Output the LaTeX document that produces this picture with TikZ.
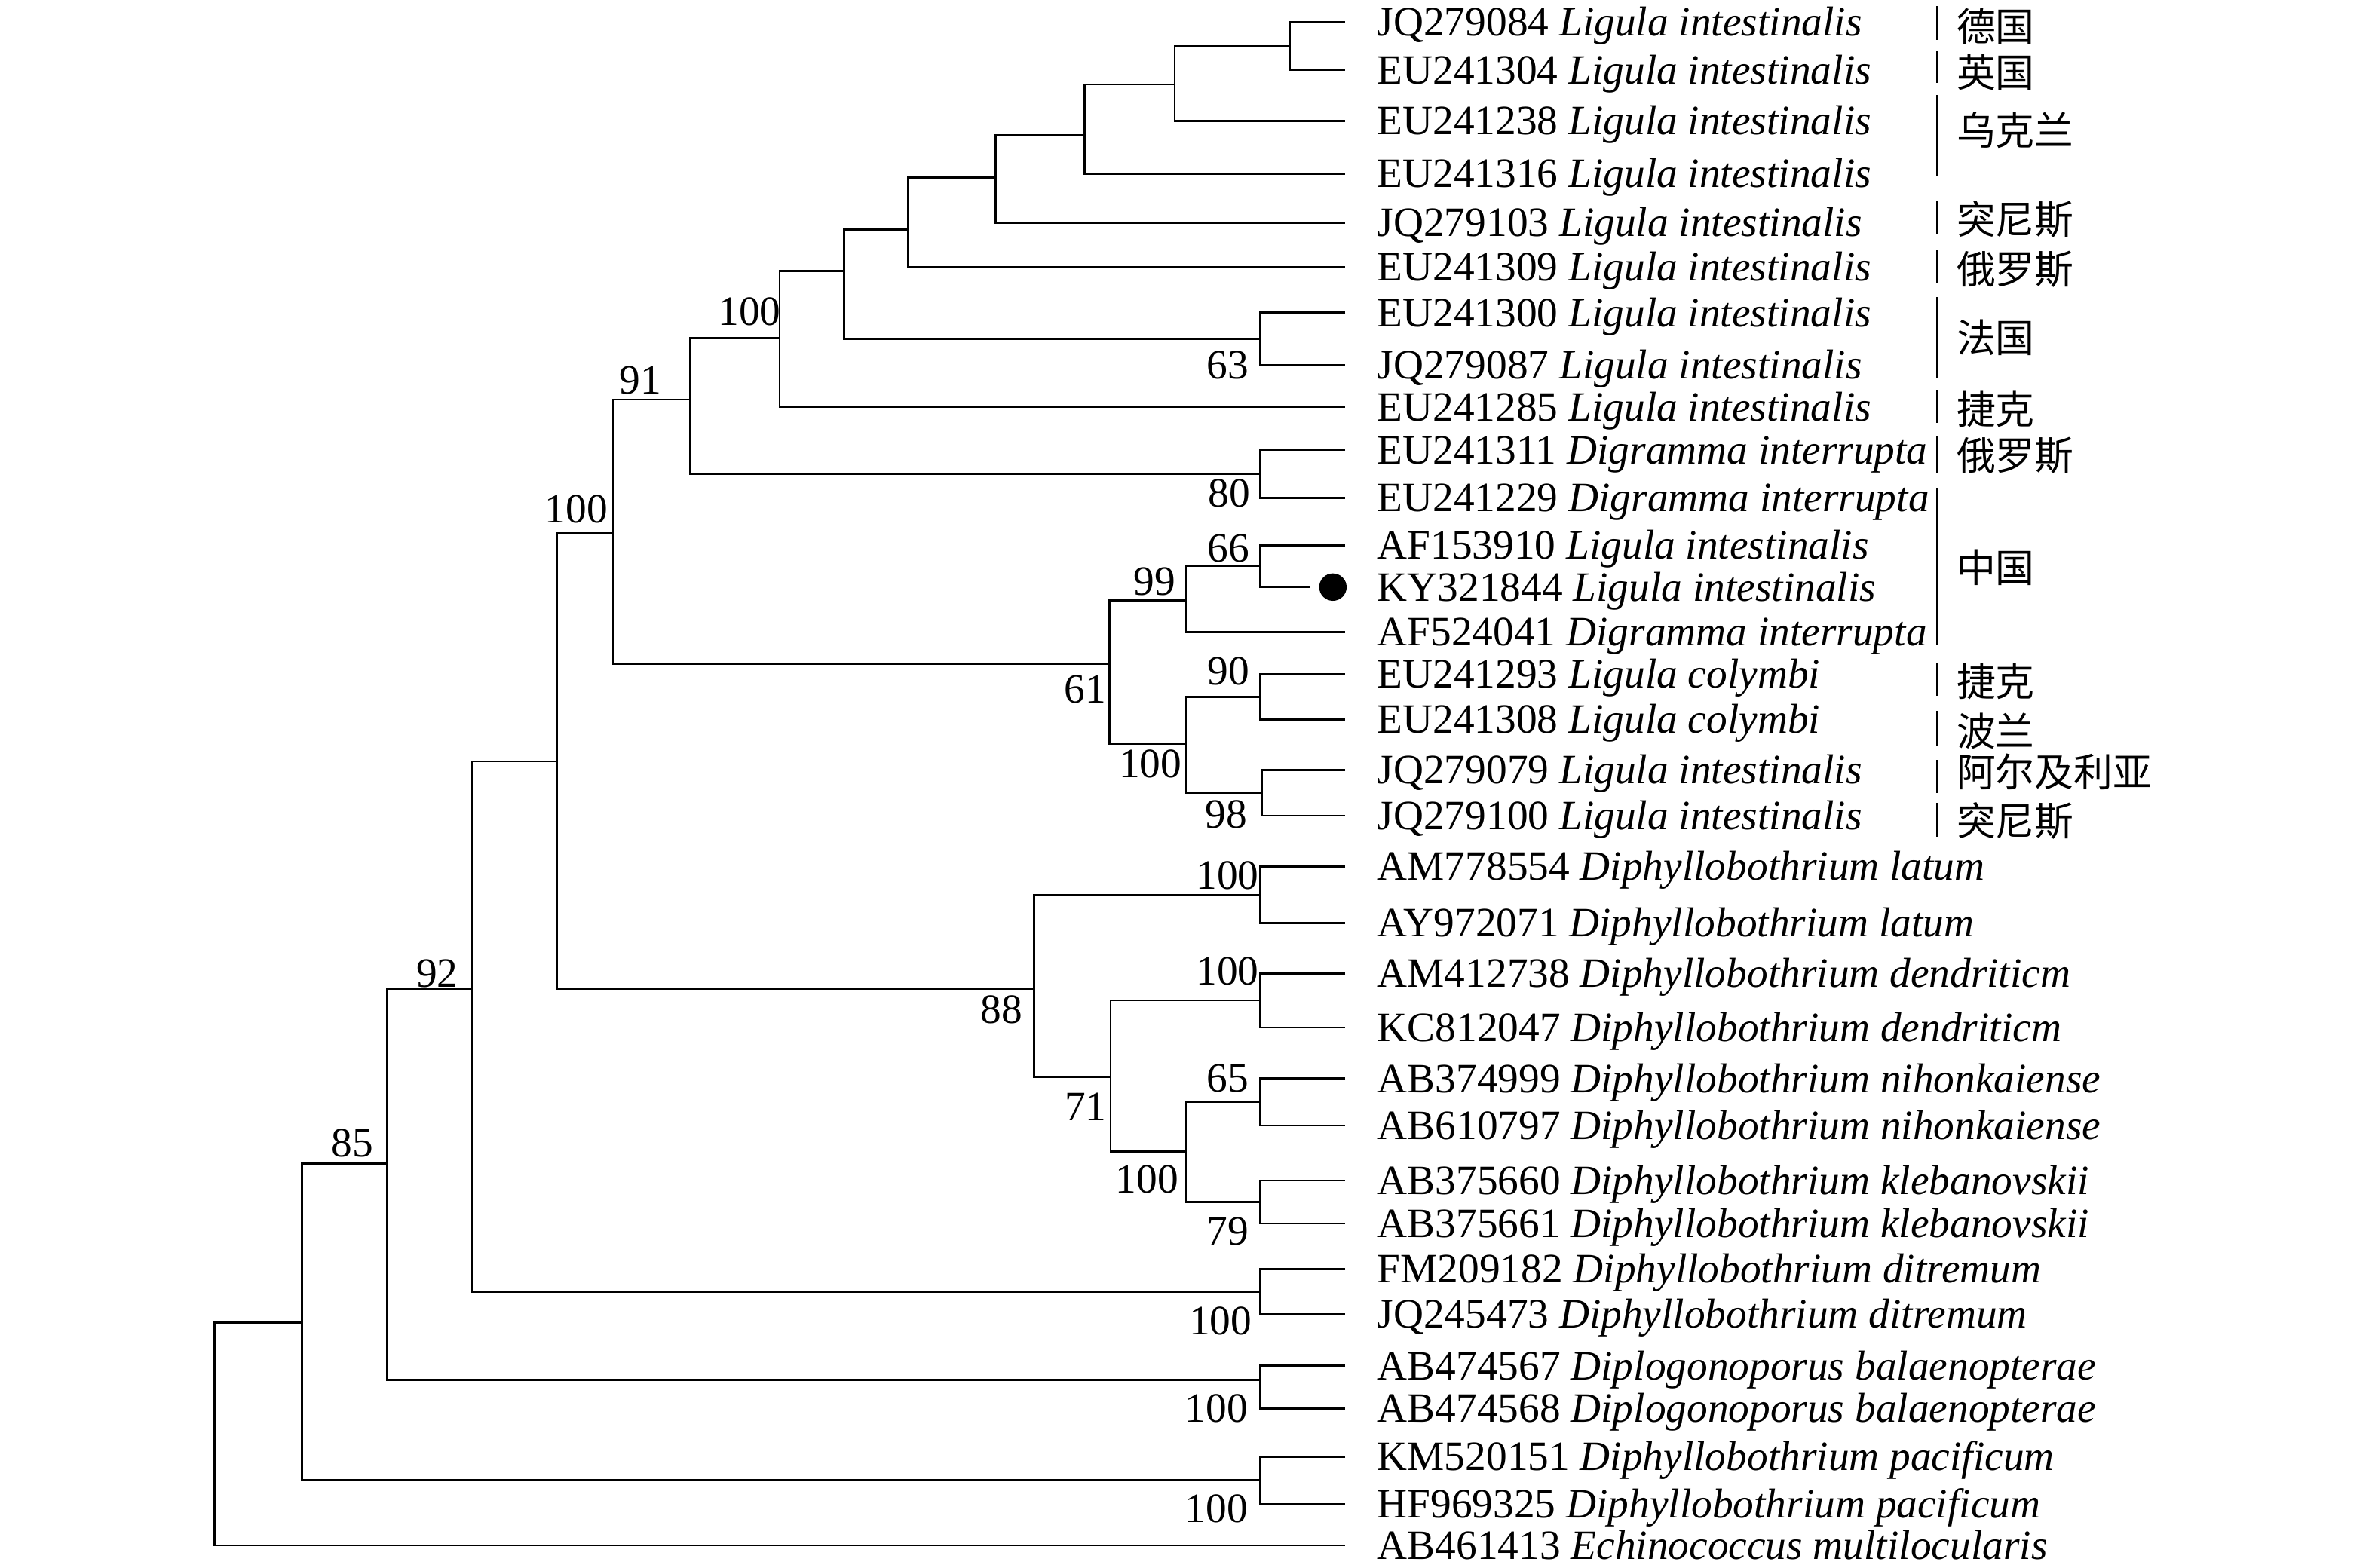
\documentclass[tikz,border=0pt]{standalone}
\usepackage{fontspec}
\setmainfont{Liberation Serif}
\newfontfamily\cjk{Noto Sans CJK SC}
\tikzset{
  branch/.style={line width=0.37pt},
  bar/.style={line width=0.45pt},
  leaf/.style={anchor=west, inner xsep=2.05mm, inner ysep=0pt, text height=1.82mm, text depth=0pt, font=\fontsize{7.8pt}{9pt}\selectfont},
  bs/.style={inner sep=0pt, font=\fontsize{7.8pt}{9pt}\selectfont},
  country/.style={anchor=west, inner sep=0pt, font=\cjk\fontsize{7.3pt}{9pt}\selectfont},
  kydot/.style={circle, fill, inner sep=0pt, minimum size=1.8mm},
}
\begin{document}
\begin{tikzpicture}[x=0.1mm, y=-0.1mm]
          \useasboundingbox (0,0) rectangle (1560,1029.6);
          % leaves
          \node[leaf] (t1) at (883.5,14.5) {JQ279084 \textit{Ligula intestinalis}};
          \node[leaf] (t2) at (883.5,46) {EU241304 \textit{Ligula intestinalis}};
          \node[leaf] (t3) at (883.5,79.5) {EU241238 \textit{Ligula intestinalis}};
          \node[leaf] (t4) at (883.5,114) {EU241316 \textit{Ligula intestinalis}};
          \node[leaf] (t5) at (883.5,146.3) {JQ279103 \textit{Ligula intestinalis}};
          \node[leaf] (t6) at (883.5,175.5) {EU241309 \textit{Ligula intestinalis}};
          \node[leaf] (t7) at (883.5,205.4) {EU241300 \textit{Ligula intestinalis}};
          \node[leaf] (t8) at (883.5,239.8) {JQ279087 \textit{Ligula intestinalis}};
          \node[leaf] (t9) at (883.5,267.3) {EU241285 \textit{Ligula intestinalis}};
          \node[leaf] (t10) at (883.5,295.6) {EU241311 \textit{Digramma interrupta}};
          \node[leaf] (t11) at (883.5,327) {EU241229 \textit{Digramma interrupta}};
          \node[leaf] (t12) at (883.5,358.3) {AF153910 \textit{Ligula intestinalis}};
          \node[leaf] (t13) at (883.5,385.7) {KY321844 \textit{Ligula intestinalis}};
          \node[leaf] (t14) at (883.5,415.2) {AF524041 \textit{Digramma interrupta}};
          \node[leaf] (t15) at (883.5,443) {EU241293 \textit{Ligula colymbi}};
          \node[leaf] (t16) at (883.5,472.6) {EU241308 \textit{Ligula colymbi}};
          \node[leaf] (t17) at (883.5,505.9) {JQ279079 \textit{Ligula intestinalis}};
          \node[leaf] (t18) at (883.5,535.9) {JQ279100 \textit{Ligula intestinalis}};
          \node[leaf] (t19) at (883.5,569.2) {AM778554 \textit{Diphyllobothrium latum}};
          \node[leaf] (t20) at (883.5,606.4) {AY972071 \textit{Diphyllobothrium latum}};
          \node[leaf] (t21) at (883.5,639.5) {AM412738 \textit{Diphyllobothrium dendriticm}};
          \node[leaf] (t22) at (883.5,675) {KC812047 \textit{Diphyllobothrium dendriticm}};
          \node[leaf] (t23) at (883.5,708.5) {AB374999 \textit{Diphyllobothrium nihonkaiense}};
          \node[leaf] (t24) at (883.5,739.3) {AB610797 \textit{Diphyllobothrium nihonkaiense}};
          \node[leaf] (t25) at (883.5,775.6) {AB375660 \textit{Diphyllobothrium klebanovskii}};
          \node[leaf] (t26) at (883.5,803.8) {AB375661 \textit{Diphyllobothrium klebanovskii}};
          \node[leaf] (t27) at (883.5,833.7) {FM209182 \textit{Diphyllobothrium ditremum}};
          \node[leaf] (t28) at (883.5,863.3) {JQ245473 \textit{Diphyllobothrium ditremum}};
          \node[leaf] (t29) at (883.5,897.2) {AB474567 \textit{Diplogonoporus balaenopterae}};
          \node[leaf] (t30) at (883.5,925.3) {AB474568 \textit{Diplogonoporus balaenopterae}};
          \node[leaf] (t31) at (883.5,957) {KM520151 \textit{Diphyllobothrium pacificum}};
          \node[leaf] (t32) at (883.5,988) {HF969325 \textit{Diphyllobothrium pacificum}};
          \node[leaf] (t33) at (883.5,1015.3) {AB461413 \textit{Echinococcus multilocularis}};
          \coordinate (ky) at (860,385.7);
          \node[kydot] (kyd) at (875.5,385.7) {};
          % internal nodes
          \coordinate (n1) at (847,30.3);
          \coordinate (n2) at (771.5,55.5);
          \coordinate (n3) at (712.5,88.7);
          \coordinate (n4) at (654,116.7);
          \coordinate (n5) at (596.3,150.7);
          \coordinate (n6) at (827.5,222.6);
          \coordinate (n7) at (554.4,178);
          \coordinate (n8) at (512.1,222.1);
          \coordinate (n9) at (827.5,311.3);
          \coordinate (n10) at (453.2,262.5);
          \coordinate (n11) at (827.5,372);
          \coordinate (n12) at (779,394.3);
          \coordinate (n13) at (827.5,457.8);
          \coordinate (n14) at (829,520.9);
          \coordinate (n15) at (779,488.7);
          \coordinate (n16) at (728.8,436.3);
          \coordinate (n17) at (402.6,350.5);
          \coordinate (n18) at (827.5,587.8);
          \coordinate (n19) at (827.5,657.2);
          \coordinate (n20) at (827.5,723.9);
          \coordinate (n21) at (827.5,789.7);
          \coordinate (n22) at (779,756.6);
          \coordinate (n23) at (729.5,707.6);
          \coordinate (n24) at (679.2,649.5);
          \coordinate (n25) at (365.6,500.2);
          \coordinate (n26) at (827.5,848.5);
          \coordinate (n27) at (310.3,649.5);
          \coordinate (n28) at (827.5,906.5);
          \coordinate (n29) at (254,764.5);
          \coordinate (n30) at (827.5,972.5);
          \coordinate (n31) at (198.3,868.8);
          \coordinate (n32) at (141,942);
          % branches
          \draw[branch] (t1.west) -| (n1) |- (t2.west);
          \draw[branch] (n1) -| (n2) |- (t3.west);
          \draw[branch] (n2) -| (n3) |- (t4.west);
          \draw[branch] (n3) -| (n4) |- (t5.west);
          \draw[branch] (n4) -| (n5) |- (t6.west);
          \draw[branch] (t7.west) -| (n6) |- (t8.west);
          \draw[branch] (n5) -| (n7) |- (n6);
          \draw[branch] (n7) -| (n8) |- (t9.west);
          \draw[branch] (t10.west) -| (n9) |- (t11.west);
          \draw[branch] (n8) -| (n10) |- (n9);
          \draw[branch] (t12.west) -| (n11) |- (ky);
          \draw[branch] (n11) -| (n12) |- (t14.west);
          \draw[branch] (t15.west) -| (n13) |- (t16.west);
          \draw[branch] (t17.west) -| (n14) |- (t18.west);
          \draw[branch] (n13) -| (n15) |- (n14);
          \draw[branch] (n12) -| (n16) |- (n15);
          \draw[branch] (n10) -| (n17) |- (n16);
          \draw[branch] (t19.west) -| (n18) |- (t20.west);
          \draw[branch] (t21.west) -| (n19) |- (t22.west);
          \draw[branch] (t23.west) -| (n20) |- (t24.west);
          \draw[branch] (t25.west) -| (n21) |- (t26.west);
          \draw[branch] (n20) -| (n22) |- (n21);
          \draw[branch] (n19) -| (n23) |- (n22);
          \draw[branch] (n18) -| (n24) |- (n23);
          \draw[branch] (n17) -| (n25) |- (n24);
          \draw[branch] (t27.west) -| (n26) |- (t28.west);
          \draw[branch] (n25) -| (n27) |- (n26);
          \draw[branch] (t29.west) -| (n28) |- (t30.west);
          \draw[branch] (n27) -| (n29) |- (n28);
          \draw[branch] (t31.west) -| (n30) |- (t32.west);
          \draw[branch] (n29) -| (n31) |- (n30);
          \draw[branch] (n31) -| (n32) |- (t33.west);
          % bootstrap values
          \node[bs] (b1) at (806.5,240) {63};
          \node[bs] (b2) at (492.3,204.7) {100};
          \node[bs] (b3) at (420.5,250) {91};
          \node[bs] (b4) at (807.5,324) {80};
          \node[bs] (b5) at (378.5,334.5) {100};
          \node[bs] (b6) at (807,360.4) {66};
          \node[bs] (b7) at (758.5,382) {99};
          \node[bs] (b8) at (712.7,453) {61};
          \node[bs] (b9) at (807,440.8) {90};
          \node[bs] (b10) at (755.5,502) {100};
          \node[bs] (b11) at (805.5,535) {98};
          \node[bs] (b12) at (806.3,575.1) {100};
          \node[bs] (b13) at (806.3,637.9) {100};
          \node[bs] (b14) at (657.8,663.1) {88};
          \node[bs] (b15) at (806.3,708.5) {65};
          \node[bs] (b16) at (713,727.2) {71};
          \node[bs] (b17) at (753.4,774.8) {100};
          \node[bs] (b18) at (806.3,808.7) {79};
          \node[bs] (b19) at (801.6,867.7) {100};
          \node[bs] (b20) at (799,925.3) {100};
          \node[bs] (b21) at (799,991) {100};
          \node[bs] (b22) at (287.2,639.5) {92};
          \node[bs] (b23) at (231.4,750.7) {85};
          % countries
          \coordinate (g1a) at (1272.5,4); \coordinate (g1b) at (1272.5,26);
          \coordinate (g2a) at (1272.5,33); \coordinate (g2b) at (1272.5,54.5);
          \coordinate (g3a) at (1272.5,62.5); \coordinate (g3b) at (1272.5,115.5);
          \coordinate (g4a) at (1272.5,132); \coordinate (g4b) at (1272.5,154);
          \coordinate (g5a) at (1272.5,164.5); \coordinate (g5b) at (1272.5,186);
          \coordinate (g6a) at (1272.5,195); \coordinate (g6b) at (1272.5,248);
          \coordinate (g7a) at (1272.5,256.6); \coordinate (g7b) at (1272.5,277.7);
          \coordinate (g8a) at (1272.5,286.6); \coordinate (g8b) at (1272.5,310.6);
          \coordinate (g9a) at (1272.5,321); \coordinate (g9b) at (1272.5,423.5);
          \coordinate (g10a) at (1272.5,435.5); \coordinate (g10b) at (1272.5,457.3);
          \coordinate (g11a) at (1272.5,467.2); \coordinate (g11b) at (1272.5,489.6);
          \coordinate (g12a) at (1272.5,499.3); \coordinate (g12b) at (1272.5,521.2);
          \coordinate (g13a) at (1272.5,527.5); \coordinate (g13b) at (1272.5,549.8);
          \draw[bar] (g1a) -- (g1b);
          \draw[bar] (g2a) -- (g2b);
          \draw[bar] (g3a) -- (g3b);
          \draw[bar] (g4a) -- (g4b);
          \draw[bar] (g5a) -- (g5b);
          \draw[bar] (g6a) -- (g6b);
          \draw[bar] (g7a) -- (g7b);
          \draw[bar] (g8a) -- (g8b);
          \draw[bar] (g9a) -- (g9b);
          \draw[bar] (g10a) -- (g10b);
          \draw[bar] (g11a) -- (g11b);
          \draw[bar] (g12a) -- (g12b);
          \draw[bar] (g13a) -- (g13b);
          \node[country] (c1) at (1284.5,17) {德国};
          \node[country] (c2) at (1284.5,47.5) {英国};
          \node[country] (c3) at (1284.5,85.5) {乌克兰};
          \node[country] (c4) at (1284.5,144) {突尼斯};
          \node[country] (c5) at (1284.5,177) {俄罗斯};
          \node[country] (c6) at (1284.5,222) {法国};
          \node[country] (c7) at (1284.5,269) {捷克};
          \node[country] (c8) at (1284.5,299) {俄罗斯};
          \node[country] (c9) at (1284.5,373) {中国};
          \node[country] (c10) at (1284.5,447.4) {捷克};
          \node[country] (c11) at (1284.5,480.4) {波兰};
          \node[country] (c12) at (1284.5,506.8) {阿尔及利亚};
          \node[country] (c13) at (1284.5,539.1) {突尼斯};
        \end{tikzpicture}
\end{document}
